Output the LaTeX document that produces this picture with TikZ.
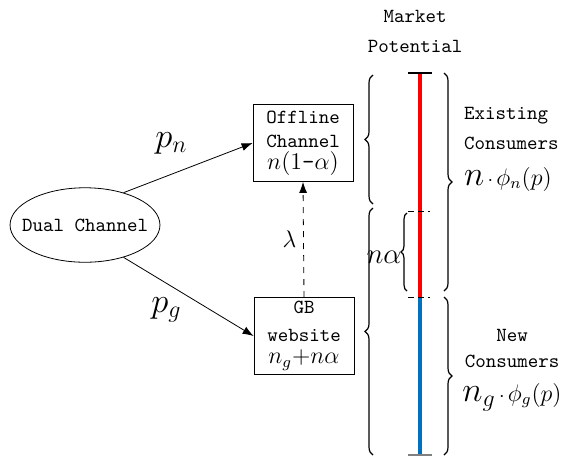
\documentclass[tikz,border=0pt]{standalone}
\usepackage{amsmath}
\usepackage{tikz}
\usetikzlibrary{arrows.meta, shapes.geometric, decorations.pathreplacing}

\definecolor{barblue}{RGB}{0,112,192}

\begin{document}
\begin{tikzpicture}[>={Latex[length=5.5pt,width=4pt]},auto,thin,x=0.5pt,y=-0.5pt,font=\ttfamily,
		box/.style={draw,align=center,minimum width=50pt,minimum height=38.5pt,inner sep=1pt},
		brc/.style={decorate,decoration={brace,amplitude=4pt},semithick},
		bar/.style={line width=2pt}]
			\useasboundingbox (0,0) rectangle (566,457);
			\node[ellipse,draw,inner xsep=-5pt,inner ysep=10pt] (D) at (85,225) {Dual Channel};
			\node[box] (O) at (303,143) {Offline\\Channel\\[-1pt]{\large $n(1\text{-}\alpha)$}};
			\node[box] (G) at (304,336) {GB\\[2pt]website\\[-1pt]{\large $n_g{+}n\alpha$}};
			\draw (D.40) edge[->]         node[pos=0.55,yshift=2pt] {\LARGE $p_n$} (O.west);
			\draw (D.-40) edge[->]        node[swap,yshift=3pt] {\LARGE $p_g$} (G.west);
			\draw (G.north) edge[->,dashed] node {\large $\lambda$} (O.south);
			% market potential bar
			\node[align=center] (M) at (415,31) {Market\\[3pt]Potential};
			\coordinate (T) at (420,73);
			\coordinate (M1) at (420,211);
			\coordinate (M2) at (420,297);
			\coordinate (B) at (420,455);
			\draw[bar,red] (T) -- (M2);
			\draw[bar,barblue] (M2) -- (B);
			\draw[semithick] ([xshift=-6pt]T) -- ([xshift=6pt]T);
			\draw[semithick,gray] ([xshift=-6pt]B) -- ([xshift=6pt]B);
			\draw[densely dashed] ([xshift=-6pt]M1) -- ([xshift=5pt]M1);
			\draw[densely dashed] ([xshift=-6pt]M2) -- ([xshift=5pt]M2);
			% braces
			\draw[brc] (373,204) -- (373,75);
			\draw[brc] (373,455) -- (373,208);
			\draw[brc,decoration={amplitude=3pt}] (407,291) -- (407,213);
			\draw[brc] (444,73) -- (444,291);
			\draw[brc] (444,297) -- (444,455);
			\node (NA) at (384,257) {\Large $n\alpha$};
			\node[align=left,anchor=north west] (E) at (457,100) {Existing\\[3pt]Consumers\\[6pt]{\LARGE $n$}\,$\cdot$\,{\large $\phi_n(p)$}};
			\node[align=center,anchor=north] (N) at (512,322) {New\\[1pt]Consumers\\[5pt]{\LARGE $n_g$}\,$\cdot$\,{\large $\phi_g(p)$}};
		\end{tikzpicture}
\end{document}
